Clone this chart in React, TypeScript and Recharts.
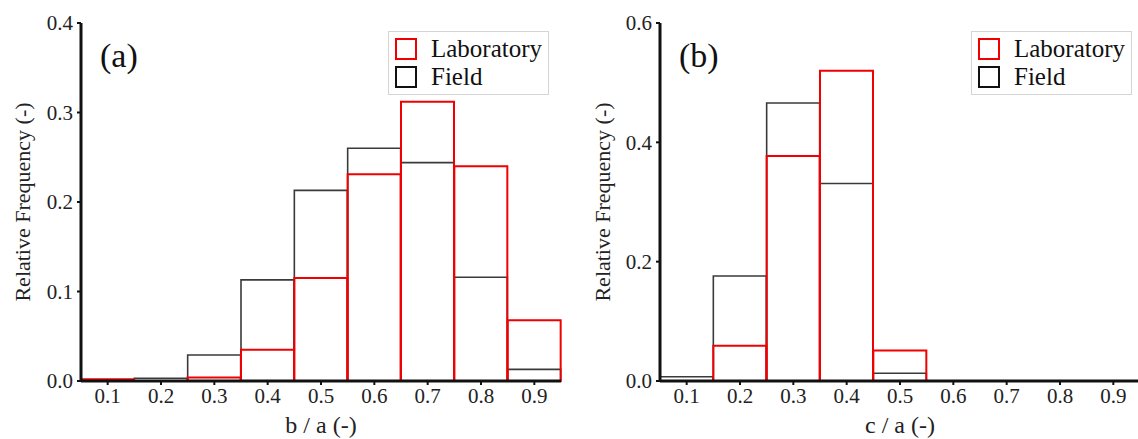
import { BarChart, Bar, XAxis, YAxis, Legend } from 'recharts'

const bins = ['0.1', '0.2', '0.3', '0.4', '0.5', '0.6', '0.7', '0.8', '0.9']

// b / a panel
const labA = [0.002, 0, 0.004, 0.035, 0.115, 0.231, 0.312, 0.24, 0.068]
const fieldA = [0.001, 0.003, 0.029, 0.113, 0.213, 0.26, 0.244, 0.116, 0.013]
const yTicksA = [0, 0.1, 0.2, 0.3, 0.4]

// c / a panel
const labB = [0, 0.059, 0.377, 0.52, 0.051, 0, 0, 0, 0]
const fieldB = [0.007, 0.176, 0.466, 0.331, 0.013, 0, 0, 0, 0]
const yTicksB = [0, 0.2, 0.4, 0.6]

const FONT = 'Liberation Serif, Times New Roman, DejaVu Serif, serif'
const RED = '#f00000'
const DARK = '#3a3a3a'
const seriesOrder = ['Laboratory', 'Field']

function LegendBox(props: any) {
  const items = [...(props.payload || [])].sort(
    (a: any, b: any) => seriesOrder.indexOf(a.value) - seriesOrder.indexOf(b.value),
  )
  return (
    <div
      style={{
        border: '1px solid #d4d4d4',
        padding: '3px 6px 3px 6px',
        fontFamily: FONT,
        fontSize: 25,
        lineHeight: '28px',
        color: '#111',
        background: '#fff',
      }}
    >
      {items.map((it: any) => (
        <div key={it.value} style={{ display: 'flex', alignItems: 'center' }}>
          <span
            style={{
              display: 'inline-block',
              width: 18,
              height: 18,
              border: `2px solid ${it.value === 'Laboratory' ? RED : '#111'}`,
              marginRight: 14,
            }}
          />
          {it.value}
        </div>
      ))}
    </div>
  )
}

interface PanelProps {
  left: number
  tag: string
  xLabel: string
  lab: number[]
  field: number[]
  yTicks: number[]
  legendLeft: number
  yAxisWidth: number
  rightMargin: number
}

function Panel({ left, tag, xLabel, lab, field, yTicks, legendLeft, yAxisWidth, rightMargin }: PanelProps) {
  const rows = bins.map((b, i) => ({ bin: b, lab: lab[i], field: field[i] }))
  const yMax = yTicks[yTicks.length - 1]
  const tickStyle = { fontSize: 21, fontFamily: FONT, fill: '#222' }
  return (
    <div style={{ position: 'absolute', left, top: 0 }}>
      <BarChart
        width={570}
        height={439}
        data={rows}
        margin={{ top: 23, right: rightMargin, left: 0, bottom: 0 }}
        barCategoryGap={0}
        barGap={0}
        style={{ fontFamily: FONT }}
      >
        <XAxis
          xAxisId="bottom"
          dataKey="bin"
          height={58}
          tick={tickStyle}
          tickSize={4}
          tickMargin={3}
          tickLine={{ stroke: '#111', strokeWidth: 2 }}
          axisLine={{ stroke: '#111', strokeWidth: 3 }}
          interval={0}
          label={{ value: xLabel, position: 'center', dy: 14, fontSize: 24, fontFamily: FONT, fill: '#222' }}
        />
        <XAxis
          xAxisId="top"
          dataKey="bin"
          orientation="top"
          height={0}
          tick={false}
          tickLine={false}
          axisLine={{ stroke: '#111', strokeWidth: 3 }}
        />
        <YAxis
          yAxisId="left"
          width={yAxisWidth}
          domain={[0, yMax]}
          ticks={yTicks}
          tickFormatter={(v: number) => v.toFixed(1)}
          tick={tickStyle}
          tickSize={4}
          tickMargin={4}
          tickLine={{ stroke: '#111', strokeWidth: 2 }}
          axisLine={{ stroke: '#111', strokeWidth: 3 }}
          label={{
            value: 'Relative Frequency (-)',
            angle: -90,
            position: 'center',
            dx: -yAxisWidth / 2 + 22,
            fontSize: 22,
            fontFamily: FONT,
            fill: '#222',
          }}
        />
        <YAxis
          yAxisId="right"
          orientation="right"
          width={0}
          domain={[0, yMax]}
          tick={false}
          tickLine={false}
          axisLine={{ stroke: '#111', strokeWidth: 3 }}
        />
        <Legend
          layout="vertical"
          align="center"
          verticalAlign="middle"
          content={<LegendBox />}
          wrapperStyle={{ left: legendLeft, top: 31, width: 'auto', height: 'auto' }}
        />
        <Bar
          dataKey="field"
          name="Field"
          xAxisId="top"
          yAxisId="left"
          fill="none"
          stroke={DARK}
          strokeWidth={1.6}
          isAnimationActive={false}
        />
        <Bar
          dataKey="lab"
          name="Laboratory"
          xAxisId="bottom"
          yAxisId="left"
          fill="none"
          stroke={RED}
          strokeWidth={2}
          isAnimationActive={false}
        />
      </BarChart>
      <div
        style={{
          position: 'absolute',
          left: yAxisWidth + 19,
          top: 36,
          fontFamily: FONT,
          fontSize: 34,
          lineHeight: '40px',
          color: '#111',
        }}
      >
        {tag}
      </div>
    </div>
  )
}

export default function App() {
  return (
    <div
      style={{
        position: 'absolute',
        left: 0,
        top: 0,
        width: 1138,
        height: 439,
        overflow: 'hidden',
        background: '#fff',
      }}
    >
      <Panel
        left={0}
        tag="(a)"
        xLabel="b / a (-)"
        lab={labA}
        field={fieldA}
        yTicks={yTicksA}
        legendLeft={388}
        yAxisWidth={81}
        rightMargin={9}
      />
      <Panel
        left={580}
        tag="(b)"
        xLabel="c / a (-)"
        lab={labB}
        field={fieldB}
        yTicks={yTicksB}
        legendLeft={391}
        yAxisWidth={80}
        rightMargin={10}
      />
    </div>
  )
}
